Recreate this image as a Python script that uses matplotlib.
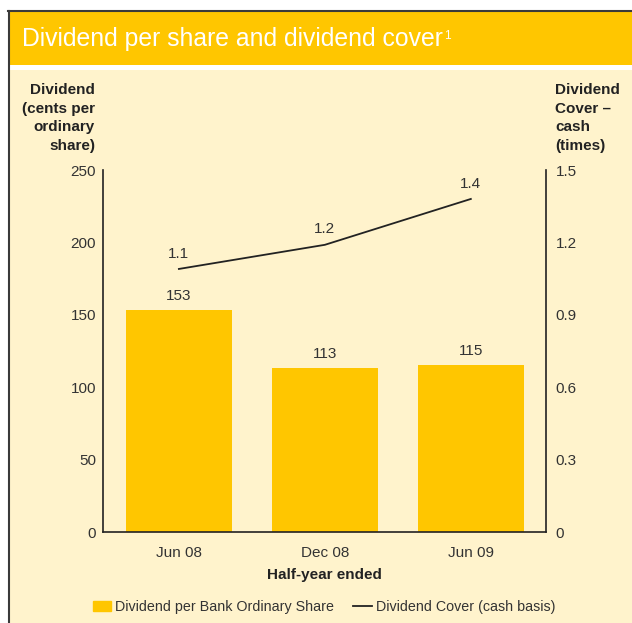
import matplotlib.pyplot as plt
import matplotlib.patches as mpatches
from matplotlib.lines import Line2D

plt.rcParams['font.family'] = ['Liberation Sans', 'DejaVu Sans']

periods = ['Jun 08', 'Dec 08', 'Jun 09']
dividend = [153, 113, 115]
cover = [1.09, 1.19, 1.38]
left_ticks = [0, 50, 100, 150, 200, 250]
right_ticks = [0, 0.3, 0.6, 0.9, 1.2, 1.5]

yellow = '#FFC600'
cream = '#FFF3CC'
ink = '#333333'

fig = plt.figure(figsize=(6.32, 6.23), dpi=100)
fig.patch.set_facecolor('white')

W, H = 632, 623
def fx(px):
    return px / W
def fy(py):
    return 1 - py / H

# panel background, header band, frame lines
fig.patches.append(mpatches.Rectangle((fx(8), 0), 1 - fx(8), fy(70), transform=fig.transFigure,
                                      facecolor=cream, edgecolor='none', zorder=-2))
fig.patches.append(mpatches.Rectangle((fx(8), fy(65)), 1 - fx(8), fy(11) - fy(65), transform=fig.transFigure,
                                      facecolor=yellow, edgecolor='none', zorder=-2))
fig.lines.append(Line2D([fx(8), 1], [fy(10.5), fy(10.5)], transform=fig.transFigure, color='#3a3a3a', lw=1.5, zorder=-1))
fig.lines.append(Line2D([fx(8.5), fx(8.5)], [0, fy(10.5)], transform=fig.transFigure, color='#3a3a3a', lw=1.5, zorder=-1))

title = fig.text(fx(22), fy(39), 'Dividend per share and dividend cover', color='white',
                 fontsize=17.8, va='center', ha='left')
fig.add_artist(plt.Annotation('1', xy=(1.0, 0.88), xycoords=title, xytext=(0.5, 0),
                              textcoords='offset points', color='white', fontsize=8.5,
                              va='top', ha='left'))

ax = fig.add_axes([fx(103), fy(532), fx(546) - fx(103), fy(170) - fy(532)])
ax.set_facecolor('none')
x = range(len(periods))
ax.bar(x, dividend, width=0.726, color=yellow, zorder=2)
for i, v in enumerate(dividend):
    ax.text(i, v + 5, str(v), ha='center', va='bottom', fontsize=11, color=ink)
ax.set_ylim(0, 250)
ax.set_xlim(-0.52, 2.515)
ax.set_yticks(left_ticks)
ax.set_yticklabels([str(t) for t in left_ticks])
ax.set_xticks(list(x))
ax.set_xticklabels(periods)
ax.tick_params(axis='both', length=0, labelsize=11, labelcolor=ink)
ax.tick_params(axis='x', pad=10)
ax.tick_params(axis='y', pad=5)
for s in ['top', 'right']:
    ax.spines[s].set_visible(False)
for s in ['left', 'bottom']:
    ax.spines[s].set_color('#222222')
    ax.spines[s].set_linewidth(1.2)
ax.set_xlabel('Half-year ended', fontsize=11, fontweight='bold', color='#222222', labelpad=6)

ax2 = ax.twinx()
ax2.plot(list(x), cover, color='#222222', lw=1.3, zorder=3)
for i, v in enumerate(cover):
    ax2.text(i, v + 0.035, f'{v:.1f}', ha='center', va='bottom', fontsize=11, color=ink)
ax2.set_ylim(0, 1.5)
ax2.set_yticks(right_ticks)
ax2.set_yticklabels(['0' if t == 0 else f'{t:.1f}' for t in right_ticks])
ax2.tick_params(axis='y', length=0, labelsize=11, labelcolor=ink, pad=7)
for s in ['top', 'left', 'bottom']:
    ax2.spines[s].set_visible(False)
ax2.spines['right'].set_color('#222222')
ax2.spines['right'].set_linewidth(1.2)

fig.text(fx(95), fy(83), 'Dividend\n(cents per\nordinary\nshare)', ha='right', va='top',
         fontsize=11, fontweight='bold', color='#222222', linespacing=1.42)
fig.text(fx(555), fy(83), 'Dividend\nCover –\ncash\n(times)', ha='left', va='top',
         fontsize=11, fontweight='bold', color='#222222', linespacing=1.42)

handles = [mpatches.Patch(color=yellow, label='Dividend per Bank Ordinary Share'),
           Line2D([0], [0], color='#222222', lw=1.3, label='Dividend Cover (cash basis)')]
fig.legend(handles=handles, loc='center', bbox_to_anchor=(fx(324), fy(607)), ncol=2, frameon=False,
           fontsize=10.3, handlelength=1.3, handletextpad=0.3, columnspacing=1.3, labelcolor=ink)

fig.savefig('out.png', dpi=100, facecolor=fig.get_facecolor())
